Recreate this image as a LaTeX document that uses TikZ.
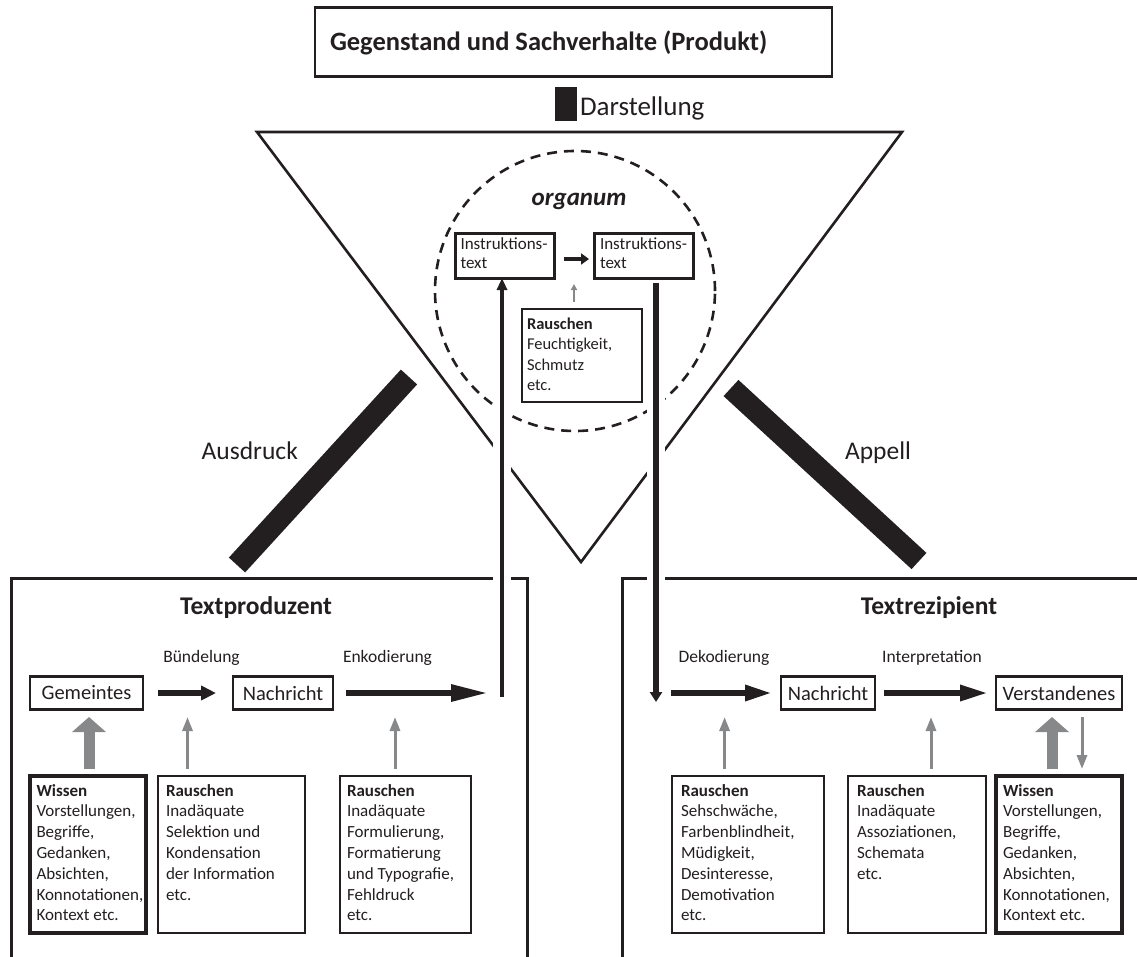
\documentclass[tikz,border=0pt]{standalone}
\usepackage{fontspec}
\setmainfont{Carlito}
\usetikzlibrary{arrows.meta}
\definecolor{ink}{HTML}{231F20}
\definecolor{noise}{HTML}{87888A}
\newcommand{\notelines}[1]{\parbox[t]{170pt}{\raggedright #1}}

\begin{document}
\begin{tikzpicture}[x=1pt, y=-1pt,
  every node/.style={inner sep=0pt, outer sep=0pt, text=ink},
  rowbox/.style={draw=ink, line width=2.8pt, minimum height=33pt, font=\fontsize{20.5}{24}\selectfont},
  noisebox/.style={draw=ink, line width=1.6pt, minimum height=157pt},
  knowbox/.style={draw=ink, line width=3.2pt, minimum height=157pt},
  instrbox/.style={draw=ink, line width=3pt, minimum width=99pt, minimum height=45pt},
  note/.style={anchor=base west, font=\fontsize{17}{20.8}\selectfont},
  smallnote/.style={anchor=base west, font=\fontsize{17}{19}\selectfont},
  lbl/.style={anchor=base, font=\fontsize{17.5}{21}\selectfont},
  title/.style={anchor=base, font=\bfseries\fontsize{25.5}{28}\selectfont},
  axis/.style={anchor=base west, font=\fontsize{25.5}{28}\selectfont},
  flow/.style={draw=ink, line width=6pt},
  hint/.style={draw=noise, line width=3pt, -{Triangle[length=14pt,width=10pt]}},
  bighint/.style={draw=noise, line width=11pt, -{Triangle[length=15pt,width=33pt]}},
  halo/.style={draw=white, line width=18pt},
  bar/.style={draw=ink, line width=22pt},
  frame/.style={draw=ink, line width=3pt}]
\useasboundingbox (0,0) rectangle (1137,956);
\clip (0,0) rectangle (1137,956);

% object and its representation
\node[draw=ink, line width=2.6pt, minimum width=517pt, minimum height=69pt] (product) at (573.5,42) {};
\node[anchor=base west, font=\bfseries\fontsize{26.5}{30}\selectfont] (producttext) at (330,50) {Gegenstand und Sachverhalte (Produkt)};
\node[fill=ink, minimum width=22pt, minimum height=34pt] (repbar) at (566,104) {};
\node[anchor=base west, font=\fontsize{27}{30}\selectfont] (replabel) at (580,115) {Darstellung};

% organon triangle
\coordinate (tl) at (257,132);
\coordinate (tr) at (902,132);
\coordinate (apex) at (581,562);
\draw[ink, line width=2.6pt] (tl) -- (tr) -- (apex) -- cycle;

% medium circle
\node[circle, draw=ink, line width=2.6pt, dash pattern=on 10pt off 7pt, minimum size=280pt] (organum) at (575,291) {};
\node[anchor=base, font=\bfseries\itshape\fontsize{25}{28}\selectfont] (organumtext) at (579,205) {organum};

% expression and appeal bars
\draw[bar] (237,565) -- (409,377);
\draw[bar] (731,388) -- (919,561);
\node[axis] (expr) at (201.7,459) {Ausdruck};
\node[axis] (appeal) at (845,459) {Appell};

% producer and recipient frames
\draw[frame] (11,990) -- (11,578) -- (527,578) -- (527,990);
\draw[frame] (622,990) -- (622,578) -- (1170,578) -- (1170,990);

% white gaps around the transmission lines
\draw[halo] (502,692) -- (502,288);
\draw[halo] (656,290) -- (656,700);

% instruction texts
\node[instrbox] (instrA) at (504.5,255.5) {};
\node[instrbox] (instrB) at (643.5,255.5) {};
\node[smallnote] (instrAt) at (460.5,249) {\notelines{Instruktions-\\text}};
\node[smallnote] (instrBt) at (600,249) {\notelines{Instruktions-\\text}};
\draw[ink, line width=4pt, -{Triangle[length=8pt,width=11pt]}] ([shift={(10,3.5)}]instrA.east) -- ([shift={(-5,3.5)}]instrB.west);

\node[draw=ink, line width=1.5pt, minimum width=120pt, minimum height=93pt] (orgnoise) at (582,355.5) {};
\node[anchor=base west, font=\fontsize{16.5}{20.5}\selectfont] (orgnoiset) at (527,329) {\notelines{\textbf{Rauschen}\\Feuchtigkeit,\\Schmutz\\etc.}};
\draw[noise, line width=2pt, -{Triangle[length=6pt,width=6pt]}] ([shift={(-8,-7)}]orgnoise.north) -- ([shift={(-8,-25)}]orgnoise.north);

% transmission lines
\coordinate (upstart) at (502,697);
\coordinate (downend) at (656,702);
\draw[ink, line width=4.5pt, -{Triangle[length=12pt,width=10pt]}] (upstart) -- (upstart |- instrA.south);
\draw[ink, line width=5.5pt, -{Triangle[length=10pt,width=12pt]}] ([shift={(0,5)}]downend |- instrB.south) -- (downend);

% producer
\node[title] (producer) at (256,614) {Textproduzent};
\node[lbl] (bundle) at (201.5,662) {Bündelung};
\node[lbl] (encode) at (387.5,662) {Enkodierung};
\node[rowbox, minimum width=113pt] (gem) at (86.5,693) {Gemeintes};
\node[rowbox, minimum width=100pt] (nach1) at (283,693) {Nachricht};
\coordinate (enc) at (488,693);
\draw[flow, -{Triangle[length=15pt,width=14pt]}] ([shift={(15,0)}]gem.east) -- ([shift={(-17,0)}]nach1.west);
\draw[flow, -{Triangle[length=37pt,width=16pt]}] ([shift={(13,0)}]nach1.east) -- (enc);

\node[knowbox, minimum width=116pt] (wiss1) at (88,854.5) {};
\node[noisebox, minimum width=147pt] (rau1) at (231.5,854.5) {};
\node[noisebox, minimum width=131pt] (rau2) at (405.5,854.5) {};
\node[note] (wiss1t) at ([shift={(6.5,20)}]wiss1.north west) {\notelines{\textbf{Wissen}\\Vorstellungen,\\Begriffe,\\Gedanken,\\Absichten,\\Konnotationen,\\Kontext etc.}};
\node[note] (rau1t) at ([shift={(8,20)}]rau1.north west) {\notelines{\textbf{Rauschen}\\Inadäquate\\Selektion und\\Kondensation\\der Information\\etc.}};
\node[note] (rau2t) at ([shift={(7,20)}]rau2.north west) {\notelines{\textbf{Rauschen}\\Inadäquate\\Formulierung,\\Formatierung\\und Typografie,\\Fehldruck\\etc.}};
\draw[bighint] ([shift={(1,-7)}]wiss1.north) -- ([shift={(1,-59)}]wiss1.north);
\draw[hint] ([shift={(-44,-7)}]rau1.north) -- ([shift={(-44,-59)}]rau1.north);
\draw[hint] ([shift={(-10.5,-7)}]rau2.north) -- ([shift={(-10.5,-59)}]rau2.north);

% recipient
\node[title] (recipient) at (929,614) {Textrezipient};
\node[lbl] (decode) at (724,662) {Dekodierung};
\node[lbl] (interp) at (932,662) {Interpretation};
\node[rowbox, minimum width=94pt] (nach2) at (828,693) {Nachricht};
\node[rowbox, minimum width=126pt] (verst) at (1059,693) {Verstandenes};
\coordinate (dec) at (671,693);
\draw[flow, -{Triangle[length=27pt,width=15pt]}] (dec) -- ([shift={(-9,0)}]nach2.west);
\draw[flow, -{Triangle[length=28pt,width=15pt]}] ([shift={(9,0)}]nach2.east) -- ([shift={(-8,0)}]verst.west);

\node[noisebox, minimum width=152pt] (rau3) at (748,854.5) {};
\node[noisebox, minimum width=138pt] (rau4) at (917,854.5) {};
\node[knowbox, minimum width=126pt] (wiss2) at (1059,854.5) {};
\node[note] (rau3t) at ([shift={(9,20)}]rau3.north west) {\notelines{\textbf{Rauschen}\\Sehschwäche,\\Farbenblindheit,\\Müdigkeit,\\Desinteresse,\\Demotivation\\etc.}};
\node[note] (rau4t) at ([shift={(9,20)}]rau4.north west) {\notelines{\textbf{Rauschen}\\Inadäquate\\Assoziationen,\\Schemata\\etc.}};
\node[note] (wiss2t) at ([shift={(7,20)}]wiss2.north west) {\notelines{\textbf{Wissen}\\Vorstellungen,\\Begriffe,\\Gedanken,\\Absichten,\\Konnotationen,\\Kontext etc.}};
\draw[hint] ([shift={(-23.4,-7)}]rau3.north) -- ([shift={(-23.4,-59)}]rau3.north);
\draw[hint] ([shift={(14,-7)}]rau4.north) -- ([shift={(14,-59)}]rau4.north);
\draw[bighint] ([shift={(-7,-7)}]wiss2.north) -- ([shift={(-7,-59)}]wiss2.north);
\draw[hint] ([shift={(23,-59)}]wiss2.north) -- ([shift={(23,-7)}]wiss2.north);
\end{tikzpicture}
\end{document}
